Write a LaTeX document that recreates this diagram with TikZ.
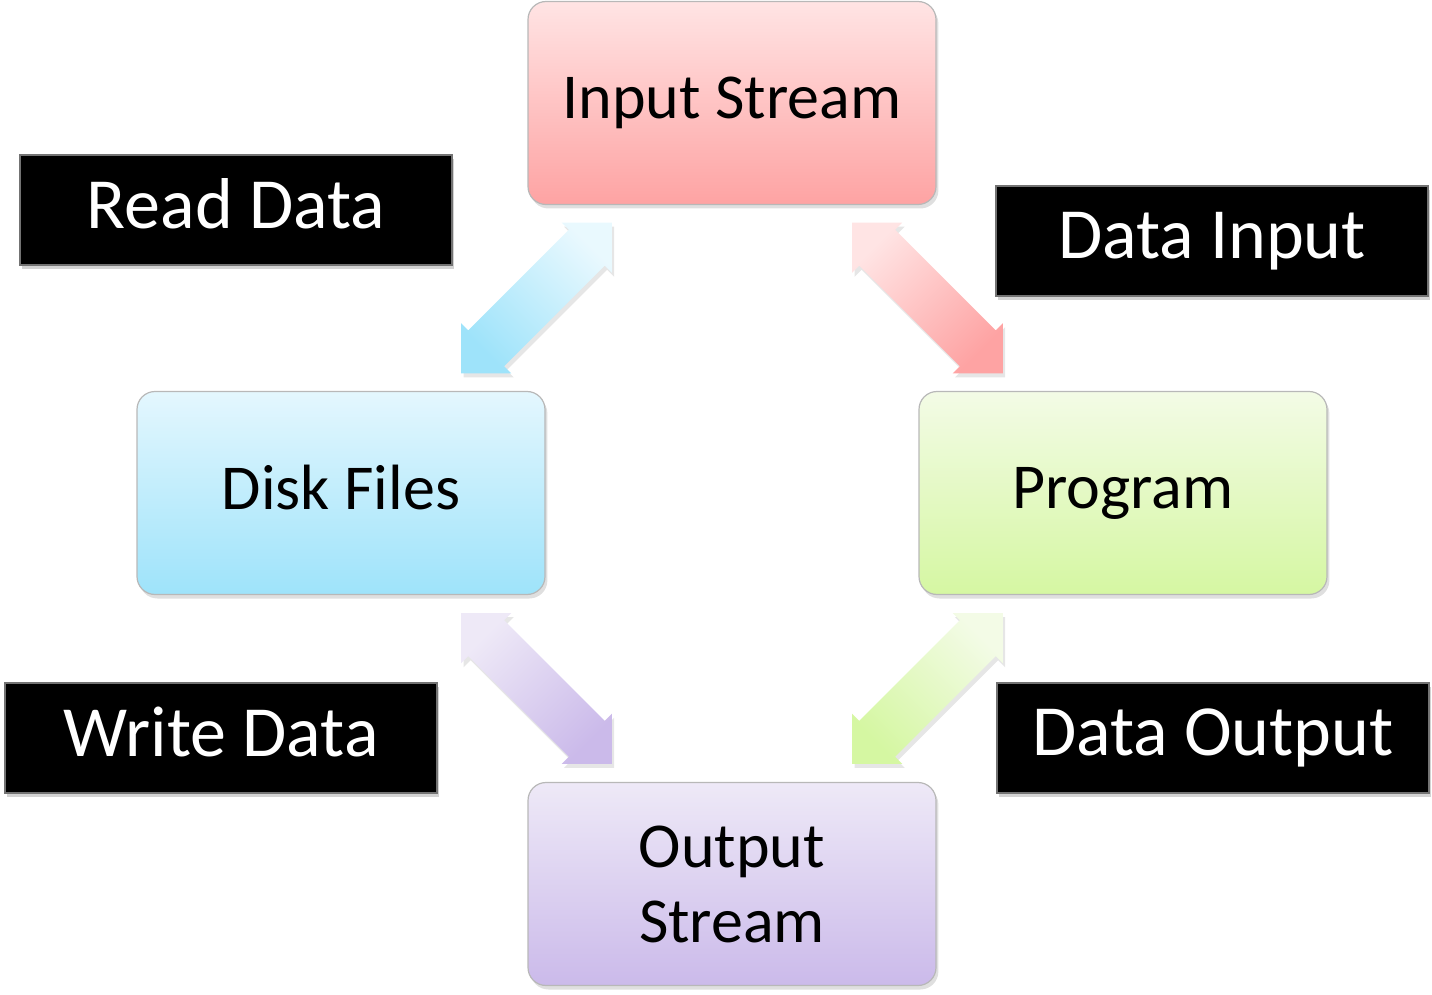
\documentclass[tikz,border=0pt]{standalone}
\usepackage{fontspec}
\setmainfont{Carlito}
\usetikzlibrary{shapes.arrows,shadows,calc}
\definecolor{inputtop}{RGB}{255,228,228}
\definecolor{inputbot}{RGB}{254,163,163}
\definecolor{disktop}{RGB}{228,247,254}
\definecolor{diskbot}{RGB}{158,227,250}
\definecolor{progtop}{RGB}{243,251,230}
\definecolor{progbot}{RGB}{213,247,162}
\definecolor{outtop}{RGB}{238,233,247}
\definecolor{outbot}{RGB}{203,186,234}

\begin{document}
\begin{tikzpicture}[
  x=0.5pt, y=-0.5pt,
  stagebox/.style={rectangle, rounded corners=9pt, draw=black!28, line width=0.6pt, minimum width=204pt, minimum height=101.5pt, align=center, font=\fontsize{32}{37.5}\selectfont, drop shadow={shadow xshift=1.2pt, shadow yshift=-2pt, opacity=0.25}},
  tag/.style={rectangle, fill=black, draw=black!55, line width=0.8pt, text=white, minimum width=216pt, minimum height=55pt, font=\fontsize{36}{40}\selectfont, drop shadow={shadow xshift=1.2pt, shadow yshift=-2pt, opacity=0.35}},
  flow/.style={double arrow, double arrow tip angle=90, double arrow head extend=5pt, inner xsep=0pt, inner ysep=12.5pt, minimum height=106.5pt, drop shadow={shadow xshift=1.2pt, shadow yshift=-2pt, opacity=0.2}}
]
\useasboundingbox (0,0) rectangle (1432,995);

% Four stages round the loop
\node[stagebox, top color=inputtop, bottom color=inputbot] (input) at (732,103) {Input Stream\vphantom{g}};
\node[stagebox, top color=disktop, bottom color=diskbot] (disk) at (341,493) {Disk Files\vphantom{g}};
\node[stagebox, top color=progtop, bottom color=progbot] (prog) at (1123,493) {Program};
\node[stagebox, top color=outtop, bottom color=outbot] (output) at (732,884) {Output\\Stream};

% Black captions
\node[tag] (readtag) at (236,210) {Read Data\vphantom{g}};
\node[tag] (inputtag) at (1212,241) {Data Input};
\node[tag] (writetag) at (221,738) {Write Data\vphantom{g}};
\node[tag] (outputtag) at (1213,738) {Data Output};

% Double arrows between the stages
\node[flow, rotate=45, top color=disktop!80!white, bottom color=diskbot, shading angle=-45] (readflow) at ($(disk.north east)!0.5!(input.south west)$) {};
\node[flow, rotate=-45, top color=inputtop, bottom color=inputbot, shading angle=45] (inputflow) at ($(prog.north west)!0.5!(input.south east)$) {};
\node[flow, rotate=-45, top color=outtop, bottom color=outbot, shading angle=45] (writeflow) at ($(disk.south east)!0.5!(output.north west)$) {};
\node[flow, rotate=45, top color=progtop, bottom color=progbot, shading angle=-45] (outputflow) at ($(prog.south west)!0.5!(output.north east)$) {};

\end{tikzpicture}
\end{document}
